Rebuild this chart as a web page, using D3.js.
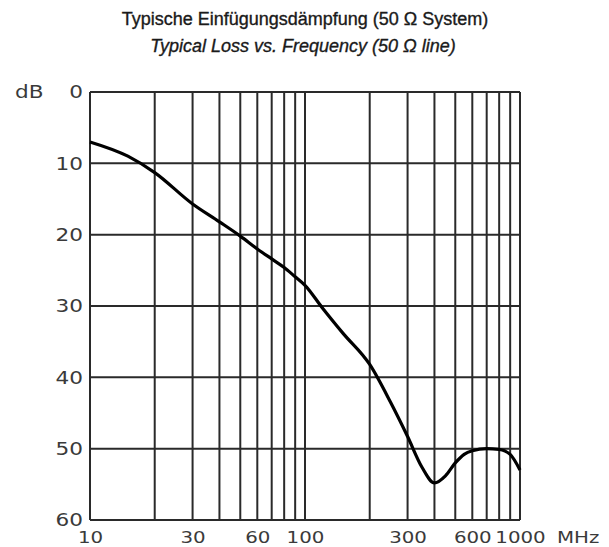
<!DOCTYPE html>
<html><head><meta charset="utf-8">
<script src="https://cdn.jsdelivr.net/npm/d3@7"></script>
<style>body{margin:0;background:#fff}svg{display:block}</style>
</head><body><svg id="c" width="609" height="547"></svg>
<script>
const freqs = [10, 15, 20, 30, 40, 50, 60, 70, 80, 90, 100, 120, 150, 200, 250, 300, 350, 400, 450, 500, 550, 600, 700, 800, 900, 1000];
const loss  = [7.0, 9.0, 11.3, 15.7, 18.2, 20.2, 22.0, 23.4, 24.6, 25.9, 27.1, 30.2, 33.8, 38.2, 43.5, 48.3, 52.6, 54.8, 53.8, 52.0, 50.8, 50.3, 50.0, 50.1, 50.8, 53.0];
const yTicks = [0, 10, 20, 30, 40, 50, 60];
const xGrid = [10,20,30,40,50,60,70,80,90,100,200,300,400,500,600,700,800,900,1000];
const xLabels = [10, 30, 60, 100, 300, 600, 1000];

const svg = d3.select("#c");
const L = 90, R = 520, T = 92, B = 520;
const x = d3.scaleLog().domain([10, 1000]).range([L, R]);
const y = d3.scaleLinear().domain([0, 60]).range([T, B]);
const font = "Liberation Sans, Arial, sans-serif";
const lab = "DejaVu Sans, sans-serif";
const SX = 1.2;

svg.append("text").attr("x", 305).attr("y", 25).attr("text-anchor", "middle")
  .attr("font-family", font).attr("font-size", 18).attr("fill", "#1a1a1a")
  .attr("stroke", "#1a1a1a").attr("stroke-width", 0.35)
  .text("Typische Einfügungsdämpfung (50 Ω System)");
svg.append("text").attr("x", 303).attr("y", 52).attr("text-anchor", "middle")
  .attr("font-family", font).attr("font-size", 18).attr("font-style", "italic").attr("fill", "#1a1a1a")
  .attr("stroke", "#1a1a1a").attr("stroke-width", 0.35)
  .text("Typical Loss vs. Frequency (50 Ω line)");

const g = svg.append("g");
g.selectAll("line.h").data(yTicks).join("line")
  .attr("x1", L).attr("x2", R).attr("y1", d => y(d)).attr("y2", d => y(d))
  .attr("stroke", "#2a2a2a").attr("stroke-width", 2);
g.selectAll("line.v").data(xGrid).join("line")
  .attr("y1", T).attr("y2", B).attr("x1", d => x(d)).attr("x2", d => x(d))
  .attr("stroke", "#2a2a2a").attr("stroke-width", 2);

const yAxis = d3.axisLeft(y).tickValues(yTicks).tickSize(0).tickPadding(7);
const ya = svg.append("g").attr("transform", `translate(${L},0)`).call(yAxis);
ya.select(".domain").remove();
ya.selectAll("text").attr("font-family", lab).attr("font-size", 18).attr("fill", "#3a3a3a")
  .attr("x", -7 / SX).attr("transform", `scale(${SX},1)`);

const xAxis = d3.axisBottom(x).tickValues(xLabels).tickFormat(d3.format("d")).tickSize(0).tickPadding(11);
const xa = svg.append("g").attr("transform", `translate(0,${B})`).call(xAxis);
xa.select(".domain").remove();
xa.selectAll("text").attr("font-family", lab).attr("font-size", 16.5).attr("fill", "#3a3a3a")
  .attr("transform", `scale(${SX},1)`);

svg.append("text").attr("transform", `translate(557,543) scale(${SX},1)`).attr("font-family", lab)
  .attr("font-size", 16.5).attr("fill", "#3a3a3a").text("MHz");
svg.append("text").attr("transform", `translate(15,98) scale(${SX},1)`).attr("font-family", lab)
  .attr("font-size", 18).attr("fill", "#3a3a3a").text("dB");

const line = d3.line().x((d, i) => x(freqs[i])).y(d => y(d)).curve(d3.curveMonotoneX);
svg.append("path").datum(loss).attr("d", line).attr("fill", "none")
  .attr("stroke", "#000").attr("stroke-width", 3.2).attr("stroke-linejoin", "round");
</script></body></html>
